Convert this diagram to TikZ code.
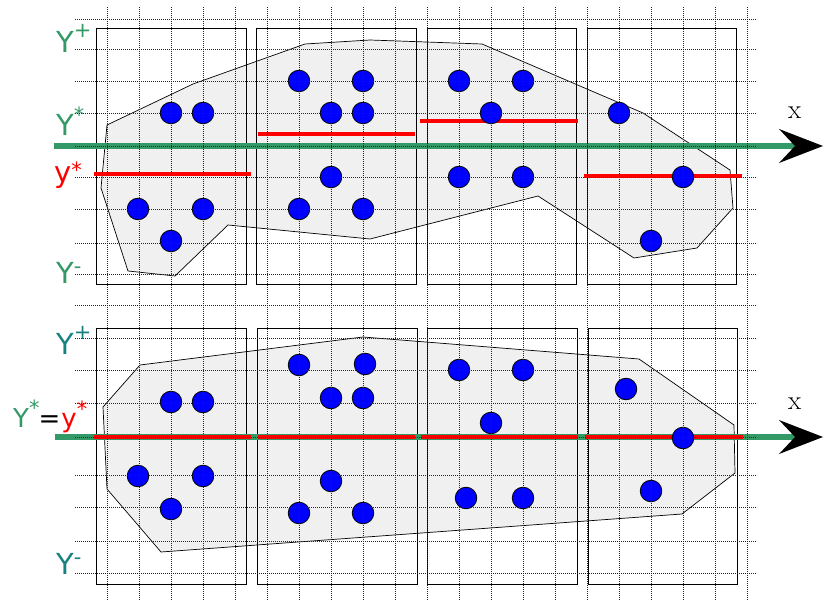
\documentclass[tikz,border=0pt]{standalone}
\usepackage{fontspec}
\newfontfamily\labelfont{DejaVu Sans}
\usepackage{xcolor}
\usepackage{tikz}
\usetikzlibrary{arrows.meta}
\definecolor{SeaGreen}{HTML}{339966}
\definecolor{DeepTeal}{HTML}{17817F}
\definecolor{PolyGray}{HTML}{F0F0F0}
\newcommand{\upmark}[2]{\raisebox{#1}{\fontsize{21}{21}\selectfont #2}}

\tikzset{
  frame/.style={draw=black,line width=0.9pt},
  region/.style={draw=black,line width=0.7pt,fill=PolyGray},
  gridline/.style={black!85,line width=0.6pt,dash pattern=on 1pt off 1pt},
  dot/.style={circle,draw=black,line width=0.8pt,fill=blue,minimum size=21.6pt,inner sep=0pt},
  axis/.style={SeaGreen,line width=6.5pt,-{Stealth[length=44pt,width=34pt,inset=16pt,color=black,line width=0pt]}},
  level/.style={red,line width=4.5pt},
  ylab/.style={font=\labelfont\fontsize{29}{29}\selectfont,inner sep=0pt,anchor=base west},
  xlab/.style={font=\fontsize{27}{27}\selectfont,inner sep=0pt,anchor=base west},
}

\begin{document}
\begin{tikzpicture}[x=1pt,y=-1pt]
\useasboundingbox (0,0) rectangle (824,601);
% upper panel
\begin{scope}
  \draw[region] (107,125) -- (193,84) -- (305,44) -- (370,40) -- (482,44) -- (643,113)
    -- (730,170) -- (733,208) -- (697,248) -- (634,258) -- (538,196) -- (370,239)
    -- (228,225) -- (175,276) -- (128,271) -- (101,188) -- cycle;
  \foreach \xa/\xb in {96/246,256/416,427/576,587/736}
    \draw[frame] (\xa,28) rectangle (\xb,284);
  \coordinate (as) at (54,146); \coordinate (ae) at (823,146);
  \draw[axis] (as) -- (ae);
  \draw[level] (94,174) -- (251,174);
  \draw[level] (258,134) -- (415,134);
  \draw[level] (420,121) -- (578,121);
  \draw[level] (584,176) -- (742,176);
  \foreach \p [count=\i] in {(171,113),(203,113),(138,209),(203,209),(171,241),
      (299,81),(363,81),(331,113),(363,113),(331,177),(299,209),(363,209),
      (459,81),(523,81),(491,113),(459,177),(523,177),
      (619,113),(683,177),(651,241)}
    \node[dot] (a\i) at \p {};
  \node[ylab,SeaGreen] (aplus) at (56,53) {Y\upmark{15pt}{+}};
  \node[ylab,SeaGreen] (astar) at (56,136) {Y\upmark{13pt}{*}};
  \node[ylab,red] (alow) at (54,183) {y\upmark{5pt}{*}};
  \node[ylab,SeaGreen] (aminus) at (56,284) {Y\upmark{10pt}{-}};
  \node[xlab] (ax) at (788,119) {x};
\end{scope}
% lower panel
\begin{scope}
  \draw[region] (103,407) -- (140,365) -- (363,337) -- (639,359) -- (734,425)
    -- (735,473) -- (682,514) -- (161,552) -- (107,489) -- cycle;
  \foreach \xa/\xb in {96/246,257/417,427/577,588/737}
    \draw[frame] (\xa,328) rectangle (\xb,584);
  \coordinate (bs) at (55,437); \coordinate (be) at (823,437);
  \draw[axis] (bs) -- (be);
  \draw[level] (94,437) -- (251,437);
  \draw[level] (258,437) -- (415,437);
  \draw[level] (421,437) -- (578,437);
  \draw[level] (585,437) -- (743,437);
  \foreach \p [count=\i] in {(171,402),(203,402),(138,476),(203,476),(171,509),
      (299,365),(365,364),(331,398),(363,398),(331,481),(299,513),(363,513),
      (459,370),(523,370),(491,423),(466,498),(523,498),
      (626,389),(683,438),(651,491)}
    \node[dot] (b\i) at \p {};
  \node[ylab,DeepTeal] (bplus) at (56,354) {Y\upmark{15pt}{+}};
  \node[ylab,font=\labelfont\fontsize{26}{26}\selectfont] (bstar) at (13,427)
    {\textcolor{SeaGreen}{Y\upmark{12pt}{*}}\kern-1pt=\kern1pt\textcolor{red}{y\upmark{11pt}{*}}};
  \node[ylab,DeepTeal] (bminus) at (56,574) {Y\upmark{10pt}{-}};
  \node[xlab] (bx) at (788,409) {x};
\end{scope}
% dotted grid on top
\foreach \gx in {0,...,20}
  \draw[gridline] ({107+32*\gx},7) -- ({107+32*\gx},600);
\foreach \gy in {19,49,81,113,146,177,209,243,274,305,338,370,403,437,475,507,541,573}
  \draw[gridline] (75,\gy) -- (757,\gy);
\end{tikzpicture}
\end{document}
